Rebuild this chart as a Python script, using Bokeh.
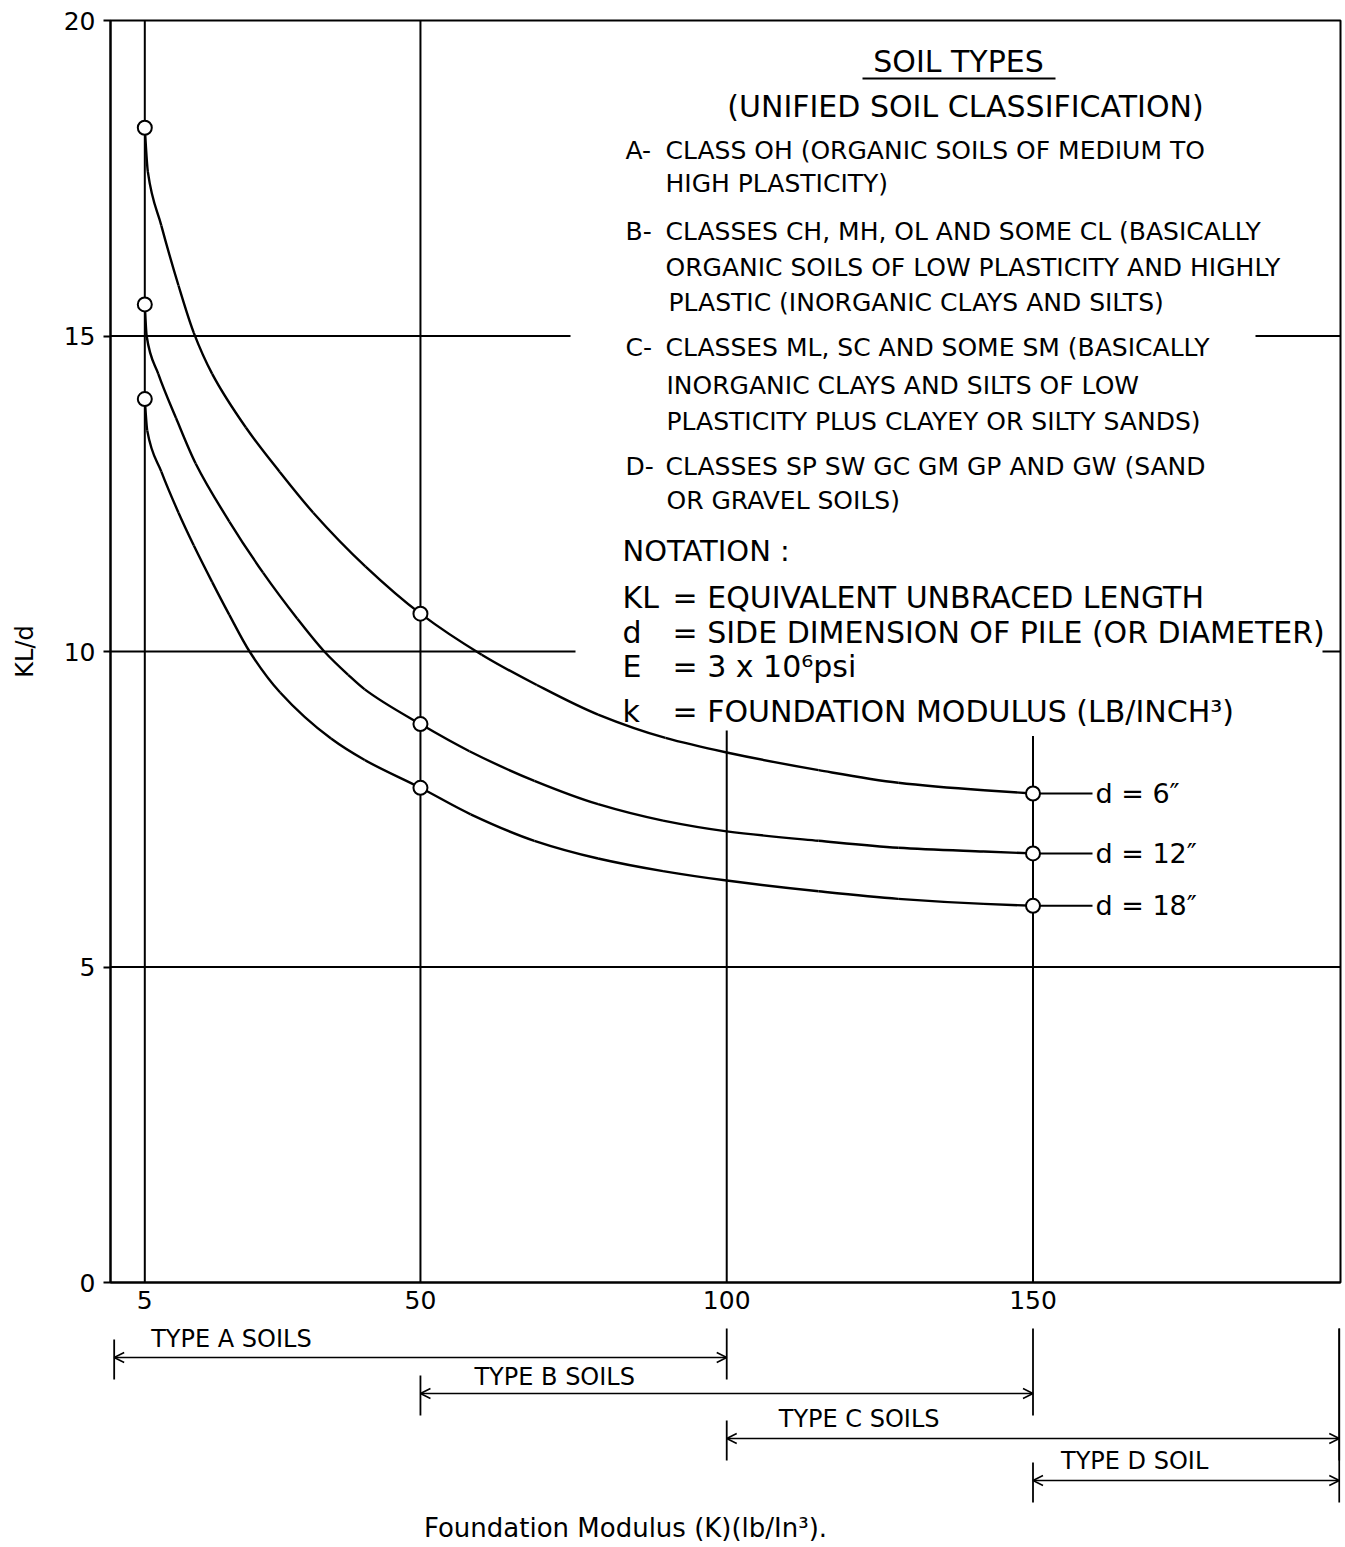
from bokeh.plotting import figure
from bokeh.models import Range1d, FixedTicker, ColumnDataSource, Arrow, OpenHead
from bokeh.layouts import column
from bokeh.embed import file_html
from bokeh.resources import INLINE
from bokeh.core.properties import value

# ------------------------------------------------------------------ data
# Foundation modulus k (lb/in^3) and KL/d, one list per pile size
k_d6 = [5, 5.5, 7.7, 10.5, 13, 16, 21.5, 27, 32.5, 41, 50, 60, 69, 79, 90, 100, 115, 128, 142, 150]
kl_d6 = [18.3, 17.6, 16.75, 15.8, 15.05, 14.4, 13.55, 12.85, 12.2, 11.35, 10.6, 9.95, 9.47, 9.0, 8.63, 8.4, 8.12, 7.92, 7.8, 7.75]

k_d12 = [5, 5.3, 7.2, 10.1, 13.3, 18.8, 24.3, 29.9, 34.3, 38.2, 40.9, 50, 58, 68.6, 79, 89.6, 100, 115, 128, 142, 150]
kl_d12 = [15.5, 15.0, 14.4, 13.7, 12.98, 12.06, 11.25, 10.52, 10.0, 9.63, 9.4, 8.85, 8.42, 7.95, 7.58, 7.32, 7.15, 7.0, 6.89, 6.83, 6.8]

k_d18 = [5, 5.4, 7.7, 10.5, 13, 16, 18.8, 22.1, 27.1, 35.4, 40.9, 50, 58.2, 68.6, 79, 89.6, 100, 115, 128, 142, 150]
kl_d18 = [14.0, 13.5, 12.85, 12.2, 11.68, 11.1, 10.58, 10.0, 9.35, 8.62, 8.28, 7.84, 7.42, 7.0, 6.72, 6.52, 6.37, 6.2, 6.08, 6.0, 5.97]

series_labels = ["d = 6\u2033", "d = 12\u2033", "d = 18\u2033"]
marker_k = [5, 50, 150]

x_ticks = [5, 50, 100, 150]
y_ticks = [0, 5, 10, 15, 20]

# vertical reference lines (k value, top of line in KL/d)
vline_k = [5, 50, 100, 150]
vline_top = [20, 20, 8.75, 8.66]
hline_full = [5]

soil_names = ["TYPE A SOILS", "TYPE B SOILS", "TYPE C SOILS", "TYPE D SOIL"]
soil_start = [0, 50, 100, 150]
soil_end = [100, 150, 200, 200]

# ------------------------------------------------------------------ layout / style
FONT = "DejaVu Sans"
FIG_W = 1343
FRAME_L = 110
FRAME_R = 3
FRAME_T = 20
FRAME_H = 1262
FIG1_B = 42
FIG1_H = FRAME_T + FRAME_H + FIG1_B
FIG2_H = 1545 - FIG1_H
X_RANGE = (-0.6, 200.2)
Y_RANGE = (0, 20)
FRAME_W = FIG_W - FRAME_L - FRAME_R


def page_to_data(px, py):
    k = X_RANGE[0] + (px - FRAME_L) / FRAME_W * (X_RANGE[1] - X_RANGE[0])
    v = Y_RANGE[1] - (py - FRAME_T) / FRAME_H * (Y_RANGE[1] - Y_RANGE[0])
    return k, v


def page_x(px):
    return page_to_data(px, 0)[0]


def _sign(a):
    return (a > 0) - (a < 0)


def smooth_segments(xs, ys):
    """Monotone cubic (PCHIP) tangents -> Bezier segments through the read points."""
    n = len(xs)
    h = [xs[i + 1] - xs[i] for i in range(n - 1)]
    dl = [(ys[i + 1] - ys[i]) / h[i] for i in range(n - 1)]
    m = [0.0] * n
    for i in range(1, n - 1):
        if dl[i - 1] * dl[i] <= 0:
            m[i] = 0.0
        else:
            w1 = 2 * h[i] + h[i - 1]
            w2 = h[i] + 2 * h[i - 1]
            m[i] = (w1 + w2) / (w1 / dl[i - 1] + w2 / dl[i])

    def edge(h0, h1, d0, d1):
        t = ((2 * h0 + h1) * d0 - h0 * d1) / (h0 + h1)
        if _sign(t) != _sign(d0):
            return 0.0
        if _sign(d0) != _sign(d1) and abs(t) > 3 * abs(d0):
            return 3 * d0
        return t

    m[0] = edge(h[0], h[1], dl[0], dl[1])
    m[-1] = edge(h[-1], h[-2], dl[-1], dl[-2])
    out = dict(x0=[], y0=[], x1=[], y1=[], cx0=[], cy0=[], cx1=[], cy1=[])
    for i in range(n - 1):
        out["x0"].append(xs[i]); out["y0"].append(ys[i])
        out["x1"].append(xs[i + 1]); out["y1"].append(ys[i + 1])
        out["cx0"].append(xs[i] + h[i] / 3.0)
        out["cy0"].append(ys[i] + m[i] * h[i] / 3.0)
        out["cx1"].append(xs[i + 1] - h[i] / 3.0)
        out["cy1"].append(ys[i + 1] - m[i + 1] * h[i] / 3.0)
    return out


# ------------------------------------------------------------------ main chart
p = figure(width=FIG_W, height=FIG1_H,
           x_range=Range1d(*X_RANGE), y_range=Range1d(*Y_RANGE),
           min_border_left=FRAME_L, min_border_right=FRAME_R,
           min_border_top=FRAME_T, min_border_bottom=FIG1_B,
           output_backend="svg", toolbar_location=None, tools="")
p.grid.visible = False
p.outline_line_color = "black"
p.outline_line_width = 2
p.background_fill_color = "white"
p.border_fill_color = "white"

xa = p.xaxis[0]
xa.ticker = FixedTicker(ticks=x_ticks)
xa.major_tick_out = 0
xa.major_tick_in = 0
xa.minor_tick_out = 0
xa.minor_tick_in = 0
xa.major_label_standoff = 8
xa.major_label_text_font = FONT
xa.major_label_text_font_size = "25px"
xa.major_label_text_color = "black"
xa.axis_line_width = 2
xa.axis_line_color = "black"

ya = p.yaxis[0]
ya.ticker = FixedTicker(ticks=y_ticks)
ya.major_tick_out = 7
ya.major_tick_in = 0
ya.minor_tick_out = 0
ya.minor_tick_in = 0
ya.major_tick_line_width = 2
ya.major_tick_line_color = "black"
ya.major_label_standoff = 8
ya.major_label_text_font = FONT
ya.major_label_text_font_size = "25px"
ya.major_label_text_color = "black"
ya.axis_line_width = 2
ya.axis_line_color = "black"
ya.axis_label = "KL/d"
ya.axis_label_text_font = FONT
ya.axis_label_text_font_size = "24px"
ya.axis_label_text_font_style = "normal"
ya.axis_label_text_color = "black"
ya.axis_label_standoff = 22

# reference lines
p.segment(x0=[X_RANGE[0]] * len(hline_full), y0=hline_full,
          x1=[X_RANGE[1]] * len(hline_full), y1=hline_full,
          line_color="black", line_width=2)
# lines 10 and 15 are interrupted by the notes block
brk_15 = (page_x(570), page_x(1255))
brk_10 = (page_x(575), page_x(1322))
p.segment(x0=[X_RANGE[0], brk_15[1], X_RANGE[0], brk_10[1]],
          y0=[15, 15, 10, 10],
          x1=[brk_15[0], X_RANGE[1], brk_10[0], X_RANGE[1]],
          y1=[15, 15, 10, 10],
          line_color="black", line_width=2)
p.segment(x0=vline_k, y0=[0] * len(vline_k), x1=vline_k, y1=vline_top,
          line_color="black", line_width=2)

# curves (smooth Bezier path through the read points)
all_k = [k_d6, k_d12, k_d18]
all_v = [kl_d6, kl_d12, kl_d18]
for ks, vs in zip(all_k, all_v):
    seg = ColumnDataSource(smooth_segments(ks, vs))
    p.bezier(x0="x0", y0="y0", x1="x1", y1="y1", cx0="cx0", cy0="cy0",
             cx1="cx1", cy1="cy1", source=seg, line_color="black", line_width=2.4)

# leaders and labels at the right end
lead_end = page_x(1092)
end_vals = [vs[-1] for vs in all_v]
p.segment(x0=[ks[-1] for ks in all_k], y0=end_vals,
          x1=[lead_end] * 3, y1=end_vals, line_color="black", line_width=2)
p.text(x=[page_x(1095)] * 3, y=end_vals, text=series_labels,
       text_font=value(FONT), text_font_size=value("27px"),
       text_baseline="middle", text_align="left", text_color="black")

# markers
for ks, vs in zip(all_k, all_v):
    mv = [vs[ks.index(m)] for m in marker_k]
    p.scatter(marker_k, mv, size=14, marker="circle", fill_color="white",
              line_color="black", line_width=2)

# notes block
notes = [
    # (page x, page y, size, align, text)
    (958, 61, "30px", "center", "SOIL TYPES"),
    (965, 106, "30px", "center", "(UNIFIED SOIL CLASSIFICATION)"),
    (625, 150, "25px", "left", "A-"),
    (665, 150, "25px", "left", "CLASS OH (ORGANIC SOILS OF MEDIUM TO"),
    (665, 183, "25px", "left", "HIGH PLASTICITY)"),
    (625, 231, "25px", "left", "B-"),
    (665, 231, "25px", "left", "CLASSES CH, MH, OL AND SOME CL (BASICALLY"),
    (665, 267, "25px", "left", "ORGANIC SOILS OF LOW PLASTICITY AND HIGHLY"),
    (668, 302, "25px", "left", "PLASTIC (INORGANIC CLAYS AND SILTS)"),
    (625, 347, "25px", "left", "C-"),
    (665, 347, "25px", "left", "CLASSES ML, SC AND SOME SM (BASICALLY"),
    (666, 385, "25px", "left", "INORGANIC CLAYS AND SILTS OF LOW"),
    (666, 421, "25px", "left", "PLASTICITY PLUS CLAYEY OR SILTY SANDS)"),
    (625, 466, "25px", "left", "D-"),
    (665, 466, "25px", "left", "CLASSES SP SW GC GM GP AND GW (SAND"),
    (666, 500, "25px", "left", "OR GRAVEL SOILS)"),
    (622, 550, "29px", "left", "NOTATION :"),
    (622, 597, "30px", "left", "KL"),
    (672, 597, "30px", "left", "= EQUIVALENT UNBRACED LENGTH"),
    (622, 632, "30px", "left", "d"),
    (672, 632, "30px", "left", "= SIDE DIMENSION OF PILE (OR DIAMETER)"),
    (622, 666, "30px", "left", "E"),
    (672, 666, "30px", "left", "= 3 x 10\u2076psi"),
    (622, 711, "30px", "left", "k"),
    (672, 711, "30px", "left", "= FOUNDATION MODULUS (LB/INCH\u00b3)"),
]
for align in ("left", "center"):
    rows = [n for n in notes if n[3] == align]
    xs, ys = zip(*[page_to_data(n[0], n[1]) for n in rows])
    src = ColumnDataSource(dict(x=list(xs), y=list(ys),
                                size=[n[2] for n in rows], text=[n[4] for n in rows]))
    p.text(x="x", y="y", text="text", text_font_size={"field": "size"}, source=src,
           text_font=value(FONT), text_baseline="middle", text_align=align,
           text_color="black")
# underline of the heading
ux0, uy = page_to_data(862, 78)
ux1, _ = page_to_data(1055, 78)
p.segment(x0=[ux0], y0=[uy], x1=[ux1], y1=[uy], line_color="black", line_width=2)

# ------------------------------------------------------------------ soil ranges strip
q = figure(width=FIG_W, height=FIG2_H, x_range=p.x_range,
           y_range=Range1d(FIG2_H, 0),
           min_border_left=FRAME_L, min_border_right=FRAME_R,
           min_border_top=0, min_border_bottom=0,
           x_axis_type=None, y_axis_type=None,
           output_backend="svg", toolbar_location=None, tools="")
q.grid.visible = False
q.outline_line_color = None
q.background_fill_color = "white"
q.border_fill_color = "white"

row_arrow_y = [33, 69, 114, 156]
row_label_y = [14, 52, 94, 136]
label_dx = [37, 54, 52, 28]

src = ColumnDataSource(dict(x0=soil_start, x1=soil_end, y=row_arrow_y))
q.add_layout(Arrow(start=OpenHead(size=10, line_width=1.5, line_color="black"),
                   end=OpenHead(size=10, line_width=1.5, line_color="black"),
                   x_start="x0", y_start="y", x_end="x1", y_end="y",
                   line_width=1.5, line_color="black", source=src))
# start ticks
q.segment(x0=soil_start, y0=[y - 18 for y in row_arrow_y],
          x1=soil_start, y1=[y + 22 for y in row_arrow_y],
          line_color="black", line_width=1.8)
# end lines dropping from the axis
q.segment(x0=soil_end, y0=[4] * len(soil_end),
          x1=soil_end, y1=[y + 22 for y in row_arrow_y],
          line_color="black", line_width=1.8)
q.text(x=soil_start, y=row_label_y, text=soil_names, x_offset=label_dx,
       text_font=value(FONT), text_font_size=value("24px"),
       text_baseline="middle", text_align="left", text_color="black")
q.text(x=[page_x(625)], y=[203], text=["Foundation Modulus (K)(lb/In\u00b3)."],
       text_font=value(FONT), text_font_size=value("26px"),
       text_baseline="middle", text_align="center", text_color="black")

layout = column(p, q, spacing=0)
open("out.html", "w").write(file_html(layout, INLINE))
